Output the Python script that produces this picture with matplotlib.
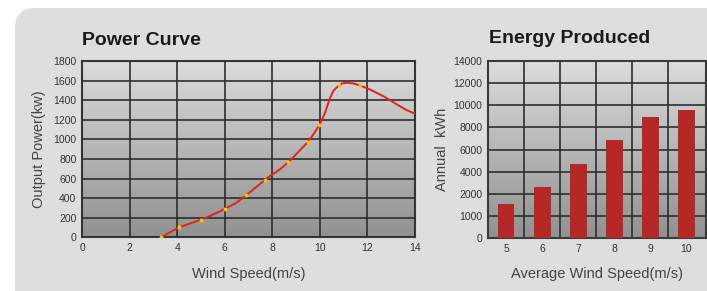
import numpy as np
import matplotlib
matplotlib.use('Agg')
import matplotlib.pyplot as plt
from matplotlib.patches import FancyBboxPatch

plt.rcParams['font.family'] = ['Liberation Sans', 'DejaVu Sans']

# power curve
wind = [3.31, 4.09, 5.00, 5.38, 6.02, 6.50, 6.89, 7.69, 7.90, 8.32, 8.67, 9.08, 9.49, 9.73,
        9.98, 10.21, 10.42, 10.57, 10.80, 10.95, 11.12, 11.40, 11.68, 12.10, 12.66, 13.22,
        13.64, 14.00]
power = [0, 102, 180, 217, 292, 353, 428, 585, 625, 694, 765, 867, 972, 1051,
         1146, 1265, 1418, 1496, 1551, 1571, 1578, 1571, 1551, 1510, 1442, 1360,
         1299, 1262]
marker_idx = [0, 1, 2, 4, 6, 7, 10, 12, 14, 18, 22]

# energy produced
avg_speed = ['5', '6', '7', '8', '9', '10']
energy = [1520, 2640, 4730, 6820, 8900, 9550]
energy_ticks = [0, 1000, 2000, 4000, 6000, 8000, 10000, 12000, 14000]

fig = plt.figure(figsize=(7.07, 2.91), dpi=100)
fig.patch.set_facecolor('white')

H = 291
# rounded grey panel (display pixels, origin bottom-left)
panel = FancyBboxPatch((15, -60), 760, H - 8 + 60, boxstyle='round,pad=0,rounding_size=20',
                       transform=None, facecolor='#dedede', edgecolor='none')
panel.set_zorder(-10)
fig.add_artist(panel)

grad = np.linspace(0, 1, 256).reshape(-1, 1)
gcmap = matplotlib.colors.LinearSegmentedColormap.from_list('g', ['#919191', '#dcdcdc'])

def style(ax):
    ax.imshow(grad, extent=[0, 1, 0, 1], transform=ax.transAxes, cmap=gcmap,
              aspect='auto', origin='lower', zorder=0)
    for s in ax.spines.values():
        s.set_color('#3a3a3a')
        s.set_linewidth(1.5)
    ax.tick_params(length=0, labelsize=7.5, labelcolor='#333333', pad=4)

ax1 = fig.add_axes([82 / 707, (H - 237.3) / H, 333 / 707, 176.3 / H])
style(ax1)
ax1.set_xlim(0, 14)
ax1.set_ylim(0, 1800)
ax1.set_xticks(range(0, 15, 2))
ax1.set_yticks(range(0, 1801, 200))
ax1.grid(True, color='#2e2e2e', linewidth=1.2, zorder=1)
ax1.set_axisbelow(False)
ax1.plot(wind, power, color='#e3231b', linewidth=1.4, zorder=3,
         marker='o', markevery=marker_idx, markersize=1.8,
         markerfacecolor='#ffc000', markeredgecolor='#ffc000', clip_on=True)
ax1.set_xlabel('Wind Speed(m/s)', fontsize=10.5, color='#444444', labelpad=10)
ax1.set_ylabel('Output Power(kw)', fontsize=10.5, color='#444444', labelpad=5)
fig.text(82 / 707, 1 - 45 / H, 'Power Curve', fontsize=14, fontweight='bold',
         color='#1a1a1a', ha='left', va='baseline')

# piecewise scale so the uneven tick labels sit on equal spacing
tick_pos = np.arange(len(energy_ticks), dtype=float)
def fwd(v):
    return np.interp(v, energy_ticks, tick_pos)
def inv(p):
    return np.interp(p, tick_pos, energy_ticks)

ax2 = fig.add_axes([488 / 707, (H - 238) / H, 218 / 707, 177 / H])
style(ax2)
ax2.set_yscale('function', functions=(fwd, inv))
ax2.set_ylim(0, 14000)
ax2.set_yticks(energy_ticks)
ax2.set_yticklabels([str(t) for t in energy_ticks])
ax2.minorticks_off()
xpos = np.arange(len(avg_speed))
ax2.set_xlim(-0.5, 5.55)
ax2.set_xticks(xpos)
ax2.set_xticklabels(avg_speed)
ax2.set_xticks(xpos[:-1] + 0.5, minor=True)
ax2.tick_params(which='minor', length=0)
ax2.grid(True, axis='y', color='#2e2e2e', linewidth=1.2, zorder=1)
ax2.grid(True, axis='x', which='minor', color='#2e2e2e', linewidth=1.2, zorder=1)
ax2.bar(xpos, energy, width=0.47, color='#b42828', zorder=3)
ax2.set_xlabel('Average Wind Speed(m/s)', fontsize=10.5, color='#444444', labelpad=10)
ax2.set_ylabel('Annual  kWh', fontsize=10.5, color='#444444', labelpad=3)
fig.text(489 / 707, 1 - 43 / H, 'Energy Produced', fontsize=14, fontweight='bold',
         color='#1a1a1a', ha='left', va='baseline')

fig.savefig('out.png', dpi=100)
